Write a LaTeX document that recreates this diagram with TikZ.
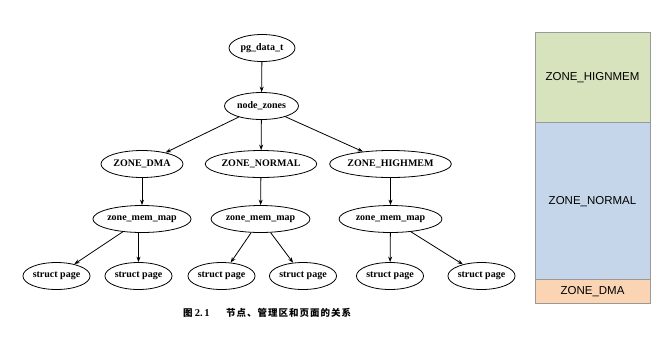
\documentclass[tikz,border=0pt]{standalone}
\usepackage{fontspec}
\setmainfont{Liberation Serif}
\newfontfamily\armfont{Liberation Sans}
\newfontfamily\cjk{Noto Sans CJK SC}
\usetikzlibrary{shapes.geometric,arrows.meta}

\tikzset{
  zn/.style={draw, ellipse, line width=0.8pt, inner sep=0pt,
    minimum height=27pt, font=\fontsize{10}{11}\selectfont\bfseries},
  arr/.style={line width=0.8pt, -{Stealth[length=5.5pt,width=4pt]}},
  band/.style={draw=black!40, line width=0.7pt},
  bandtext/.style={font=\armfont\fontsize{11.5}{12}\selectfont, text=black}
}
\newcommand{\gsp}{\kern1pt}

\begin{document}
\begin{tikzpicture}[x=1pt,y=-1pt]
  \useasboundingbox[fill=white] (0,0) rectangle (670,341);

  % tree of pg_data_t, its zones and their page maps
  \node[zn, minimum width=66pt] (pg) at (262,48) {pg\_data\_t};
  \node[zn, minimum width=74pt] (nz) at (261.5,106) {node\_zones};

  \node[zn, minimum width=82pt]  (zdma)  at (142,164) {ZONE\_DMA};
  \node[zn, minimum width=108pt] (znorm) at (261,164) {ZONE\_NORMAL};
  \node[zn, minimum width=113pt] (zhigh) at (390.5,164) {ZONE\_HIGHMEM};

  \node[zn, minimum width=98pt]  (m1) at (142,219) {zone\_mem\_map};
  \node[zn, minimum width=99pt]  (m2) at (260.5,219) {zone\_mem\_map};
  \node[zn, minimum width=103pt] (m3) at (390.5,219) {zone\_mem\_map};

  \node[zn, minimum width=67pt] (p1) at (56.5,276) {struct page};
  \node[zn, minimum width=67pt] (p2) at (138.5,276) {struct page};
  \node[zn, minimum width=67pt] (p3) at (221.5,276) {struct page};
  \node[zn, minimum width=67pt] (p4) at (303,276) {struct page};
  \node[zn, minimum width=67pt] (p5) at (390,276) {struct page};
  \node[zn, minimum width=67pt] (p6) at (481.5,276) {struct page};

  \draw[arr] (pg) -- (nz);
  \draw[arr] (nz) -- (zdma);
  \draw[arr] (nz) -- (znorm);
  \draw[arr] (nz) -- (zhigh);
  \draw[arr] (zdma) -- (m1);
  \draw[arr] (znorm) -- (m2);
  \draw[arr] (zhigh) -- (m3);
  \draw[arr] (m1) -- (p1);
  \draw[arr] (p2.north |- m1.south) -- (p2.north);
  \draw[arr] (m2) -- (p3);
  \draw[arr] (m2) -- (p4);
  \draw[arr] (m3) -- (p5);
  \draw[arr] (m3) -- (p6);

  % caption
  \node[anchor=west, inner sep=0pt] (capnum) at (183,313)
    {\cjk\fontsize{9.5}{10}\selectfont\bfseries 图\ \rmfamily\fontsize{10.5}{11}\selectfont\bfseries 2.\,1};
  \node[anchor=west, inner sep=0pt] (captxt) at (226,313)
    {\cjk\fontsize{9.5}{10}\selectfont\bfseries
     节\gsp 点\gsp 、\gsp 管\gsp 理\gsp 区\gsp 和\gsp 页\gsp 面\gsp 的\gsp 关\gsp 系};

  % memory layout bar
  \definecolor{hibg}{HTML}{D6E3BC}
  \definecolor{nobg}{HTML}{C5D5EA}
  \definecolor{dmabg}{HTML}{FBD4B4}
  \filldraw[band, fill=hibg]  (535,32)  rectangle (650,122);
  \filldraw[band, fill=nobg]  (535,122) rectangle (650,279);
  \filldraw[band, fill=dmabg] (535,279) rectangle (650,303);
  \node[bandtext] (thigh) at (592.5,78)  {ZONE\_HIGNMEM};
  \node[bandtext] (tnorm) at (592.5,202) {ZONE\_NORMAL};
  \node[bandtext] (tdma)  at (592.5,292) {ZONE\_DMA};
\end{tikzpicture}
\end{document}
